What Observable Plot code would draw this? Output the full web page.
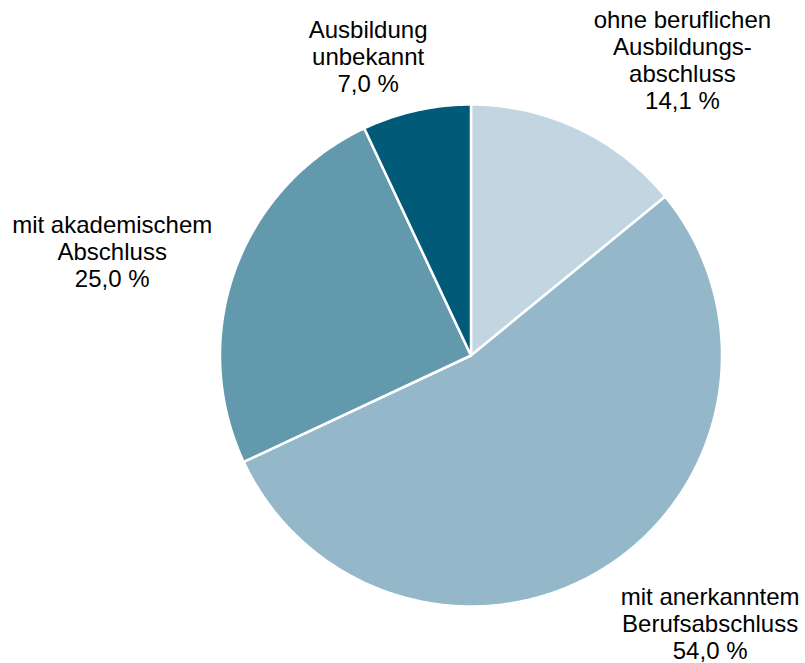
<!DOCTYPE html>
<html><head><meta charset="utf-8">
<script src="https://cdn.jsdelivr.net/npm/d3@7"></script>
<script src="https://cdn.jsdelivr.net/npm/@observablehq/plot@0.6"></script>
<style>body{margin:0;background:#fff}</style>
</head><body><div id="chart"></div>
<script>
const categories = ["ohne beruflichen Ausbildungsabschluss", "mit anerkanntem Berufsabschluss", "mit akademischem Abschluss", "Ausbildung unbekannt"];
const labels = ["ohne beruflichen\nAusbildungs-\nabschluss", "mit anerkanntem\nBerufsabschluss", "mit akademischem\nAbschluss", "Ausbildung\nunbekannt"];
const shares = [14.1, 54.0, 25.0, 7.0];
const colors = ["#c2d6e2", "#94b8ca", "#6399ad", "#005a78"];
// label offset from the slice's outer mid-point, in radius units (y up)
const labelNudge = [[0.414, 0.2755], [0.420, -0.219], [-0.489, 0.076], [-0.192, 0.216]];

const arcs = d3.pie().sort(null).value(d => d)(shares);
const step = Math.PI / 360;
const features = arcs.map((a, i) => {
  const n = Math.max(2, Math.ceil((a.endAngle - a.startAngle) / step));
  const ring = [[0, 0]];
  for (let k = 0; k <= n; k++) {
    const t = a.startAngle + (a.endAngle - a.startAngle) * k / n;
    ring.push([Math.sin(t), Math.cos(t)]);
  }
  ring.push([0, 0]);
  return {type: "Feature", properties: {category: categories[i]}, geometry: {type: "Polygon", coordinates: [ring]}};
});
const labelData = arcs.map((a, i) => {
  const m = (a.startAngle + a.endAngle) / 2;
  return {
    x: Math.sin(m) + labelNudge[i][0],
    y: Math.cos(m) + labelNudge[i][1],
    text: labels[i] + "\n" + shares[i].toFixed(1).replace(".", ",") + " %"
  };
});

const plot = Plot.plot({
  width: 805, height: 663,
  marginLeft: 219.5, marginRight: 83.5, marginTop: 104, marginBottom: 57,
  style: {fontFamily: "'Liberation Sans', Arial, sans-serif", background: "white"},
  projection: {type: "reflect-y", clip: false, domain: {type: "MultiPoint", coordinates: [[-1, -1], [1, 1]]}},
  color: {domain: categories, range: colors},
  marks: [
    Plot.geo(features, {fill: d => d.properties.category, stroke: "white", strokeWidth: 2.5}),
    Plot.text(labelData, {x: "x", y: "y", text: "text", fontSize: 24, lineHeight: 1.125, fill: "black", textAnchor: "middle", clip: false})
  ]
});
document.getElementById("chart").append(plot);
</script>
</body></html>
